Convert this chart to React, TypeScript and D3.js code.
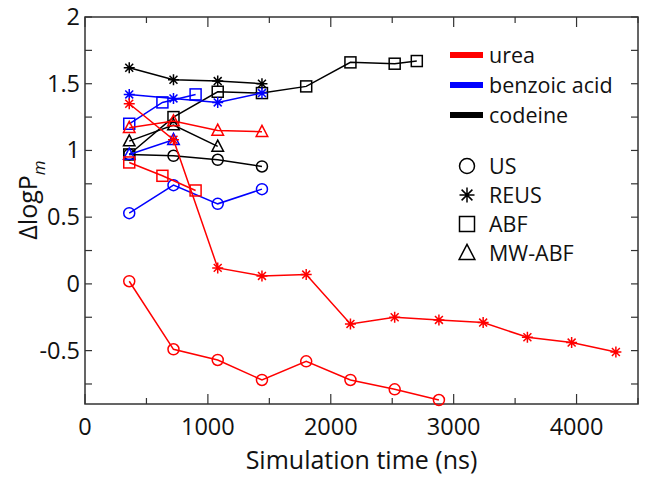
import React from "react";
import * as d3 from "d3";

// ---- data ----
const tUS = [360, 720, 1080, 1440, 1800, 2160, 2520, 2880];
const tREUS = [360, 720, 1080, 1440, 1800, 2160, 2520, 2880, 3240, 3600, 3960, 4320];
const tABFshort = [360, 630, 900];
const tABFcodeine = [360, 720, 1080, 1440, 1800, 2160, 2520, 2700];
const tMW = [360, 720, 1080, 1440];

const ureaUS = [0.02, -0.49, -0.57, -0.72, -0.58, -0.72, -0.79, -0.87];
const ureaREUS = [1.35, 1.08, 0.12, 0.06, 0.07, -0.3, -0.25, -0.27, -0.29, -0.4, -0.44, -0.51];
const ureaABF = [0.91, 0.81, 0.7];
const ureaMW = [1.17, 1.22, 1.15, 1.14];

const benzUS = [0.53, 0.74, 0.6, 0.71];
const benzREUS = [1.42, 1.39, 1.36, 1.43];
const benzABF = [1.2, 1.36, 1.42];
const benzMW = [0.97, 1.08];

const codUS = [0.97, 0.96, 0.93, 0.88];
const codREUS = [1.62, 1.53, 1.52, 1.5];
const codABF = [0.97, 1.25, 1.44, 1.43, 1.48, 1.66, 1.65, 1.67];
const codMW = [1.07, 1.19, 1.03];

const compounds = ["urea", "benzoic acid", "codeine"];
const compoundColors = ["#ff0000", "#0000ff", "#000000"];
const methods = ["US", "REUS", "ABF", "MW-ABF"];

const xTicks = [0, 1000, 2000, 3000, 4000];
const yTicks = [-0.5, 0, 0.5, 1, 1.5, 2];

type Series = { color: string; marker: string; t: number[]; v: number[] };

const series: Series[] = [
  { color: compoundColors[2], marker: "ABF", t: tABFcodeine, v: codABF },
  { color: compoundColors[2], marker: "US", t: tUS, v: codUS },
  { color: compoundColors[2], marker: "REUS", t: tREUS, v: codREUS },
  { color: compoundColors[2], marker: "MW-ABF", t: tMW, v: codMW },
  { color: compoundColors[1], marker: "US", t: tUS, v: benzUS },
  { color: compoundColors[1], marker: "REUS", t: tREUS, v: benzREUS },
  { color: compoundColors[1], marker: "ABF", t: tABFshort, v: benzABF },
  { color: compoundColors[1], marker: "MW-ABF", t: tMW, v: benzMW },
  { color: compoundColors[0], marker: "US", t: tUS, v: ureaUS },
  { color: compoundColors[0], marker: "REUS", t: tREUS, v: ureaREUS },
  { color: compoundColors[0], marker: "ABF", t: tABFshort, v: ureaABF },
  { color: compoundColors[0], marker: "MW-ABF", t: tMW, v: ureaMW },
];

const W = 649;
const H = 477;
const L = 85, R = 638, T = 17, B = 404;
const FONT = "'Open Sans', 'Noto Sans', sans-serif";

function Marker({ kind, x, y, color, s }: { kind: string; x: number; y: number; color: string; s: number }) {
  const sw = 1.5;
  if (kind === "US") return <circle cx={x} cy={y} r={s} fill="none" stroke={color} strokeWidth={sw} />;
  if (kind === "ABF")
    return <rect x={x - s} y={y - s} width={2 * s} height={2 * s} fill="none" stroke={color} strokeWidth={sw} />;
  if (kind === "MW-ABF") {
    const h = s * 1.15;
    return (
      <path
        d={`M${x},${y - h}L${x + s * 1.05},${y + h * 0.75}L${x - s * 1.05},${y + h * 0.75}Z`}
        fill="none"
        stroke={color}
        strokeWidth={sw}
      />
    );
  }
  const d = s * 0.72;
  return (
    <path
      d={`M${x - s},${y}L${x + s},${y}M${x},${y - s}L${x},${y + s}M${x - d},${y - d}L${x + d},${y + d}M${x - d},${y + d}L${x + d},${y - d}`}
      stroke={color}
      strokeWidth={sw}
    />
  );
}

export default function App() {
  const x = d3.scaleLinear().domain([0, 4500]).range([L, R]);
  const y = d3.scaleLinear().domain([-0.9, 2]).range([B, T]);
  const line = d3
    .line<[number, number]>()
    .x((d) => x(d[0]))
    .y((d) => y(d[1]));

  const xMinor = d3.range(0, 4501, 500);
  const yMinor = d3.range(-0.75, 2.01, 0.25);
  const axisColor = "#333";

  return (
    <svg width={W} height={H} style={{ position: "absolute", left: 0, top: 0, background: "#fff" }}>
      {/* ticks */}
      <g stroke={axisColor} strokeWidth={1.2}>
        {xMinor.map((v) => {
          const major = v % 1000 === 0;
          const len = major ? 10 : 6;
          return (
            <g key={"xt" + v}>
              <line x1={x(v)} x2={x(v)} y1={B} y2={B - len} />
              <line x1={x(v)} x2={x(v)} y1={T} y2={T + len} />
            </g>
          );
        })}
        {yMinor.map((v) => {
          const len = 7;
          return (
            <g key={"yt" + v}>
              <line x1={L} x2={L + len} y1={y(v)} y2={y(v)} />
              <line x1={R} x2={R - len} y1={y(v)} y2={y(v)} />
            </g>
          );
        })}
      </g>
      <rect x={L} y={T} width={R - L} height={B - T} fill="none" stroke={axisColor} strokeWidth={1.5} />

      {/* tick labels */}
      <g fontFamily={FONT} fontSize={23.5} fill="#111">
        {xTicks.map((v) => (
          <text key={"xl" + v} x={x(v)} y={435} textAnchor="middle">
            {v}
          </text>
        ))}
        {yTicks.map((v) => (
          <text key={"yl" + v} x={80} y={y(v) + 8} textAnchor="end">
            {v}
          </text>
        ))}
      </g>

      {/* axis titles */}
      <text x={(L + R) / 2} y={469} textAnchor="middle" fontFamily={FONT} fontSize={25} fill="#111">
        Simulation time (ns)
      </text>
      <text transform="translate(37,200) rotate(-90)" textAnchor="middle" fontFamily={FONT} fontSize={25} fill="#111">
        ΔlogP
        <tspan fontSize={17} fontStyle="italic" dy={8}>
          m
        </tspan>
      </text>

      {/* series */}
      {series.map((s, i) => {
        const pts = s.t.slice(0, s.v.length).map((t, j) => [t, s.v[j]] as [number, number]);
        return (
          <g key={"s" + i}>
            <path d={line(pts) || ""} fill="none" stroke={s.color} strokeWidth={1.5} />
            {pts.map((p, j) => (
              <Marker key={j} kind={s.marker} x={x(p[0])} y={y(p[1])} color={s.color} s={5.5} />
            ))}
          </g>
        );
      })}

      {/* legend */}
      <g fontFamily={FONT} fontSize={21.5} fill="#111">
        {compounds.map((c, i) => (
          <g key={"lc" + c}>
            <line x1={450} x2={483} y1={55 + i * 30} y2={55 + i * 30} stroke={compoundColors[i]} strokeWidth={6} />
            <text x={489} y={55 + i * 30 + 7.5}>
              {c}
            </text>
          </g>
        ))}
        {methods.map((m, i) => (
          <g key={"lm" + m}>
            <Marker kind={m} x={467} y={166 + i * 29} color="#000" s={7.5} />
            <text x={489} y={166 + i * 29 + 8}>
              {m}
            </text>
          </g>
        ))}
      </g>
    </svg>
  );
}
